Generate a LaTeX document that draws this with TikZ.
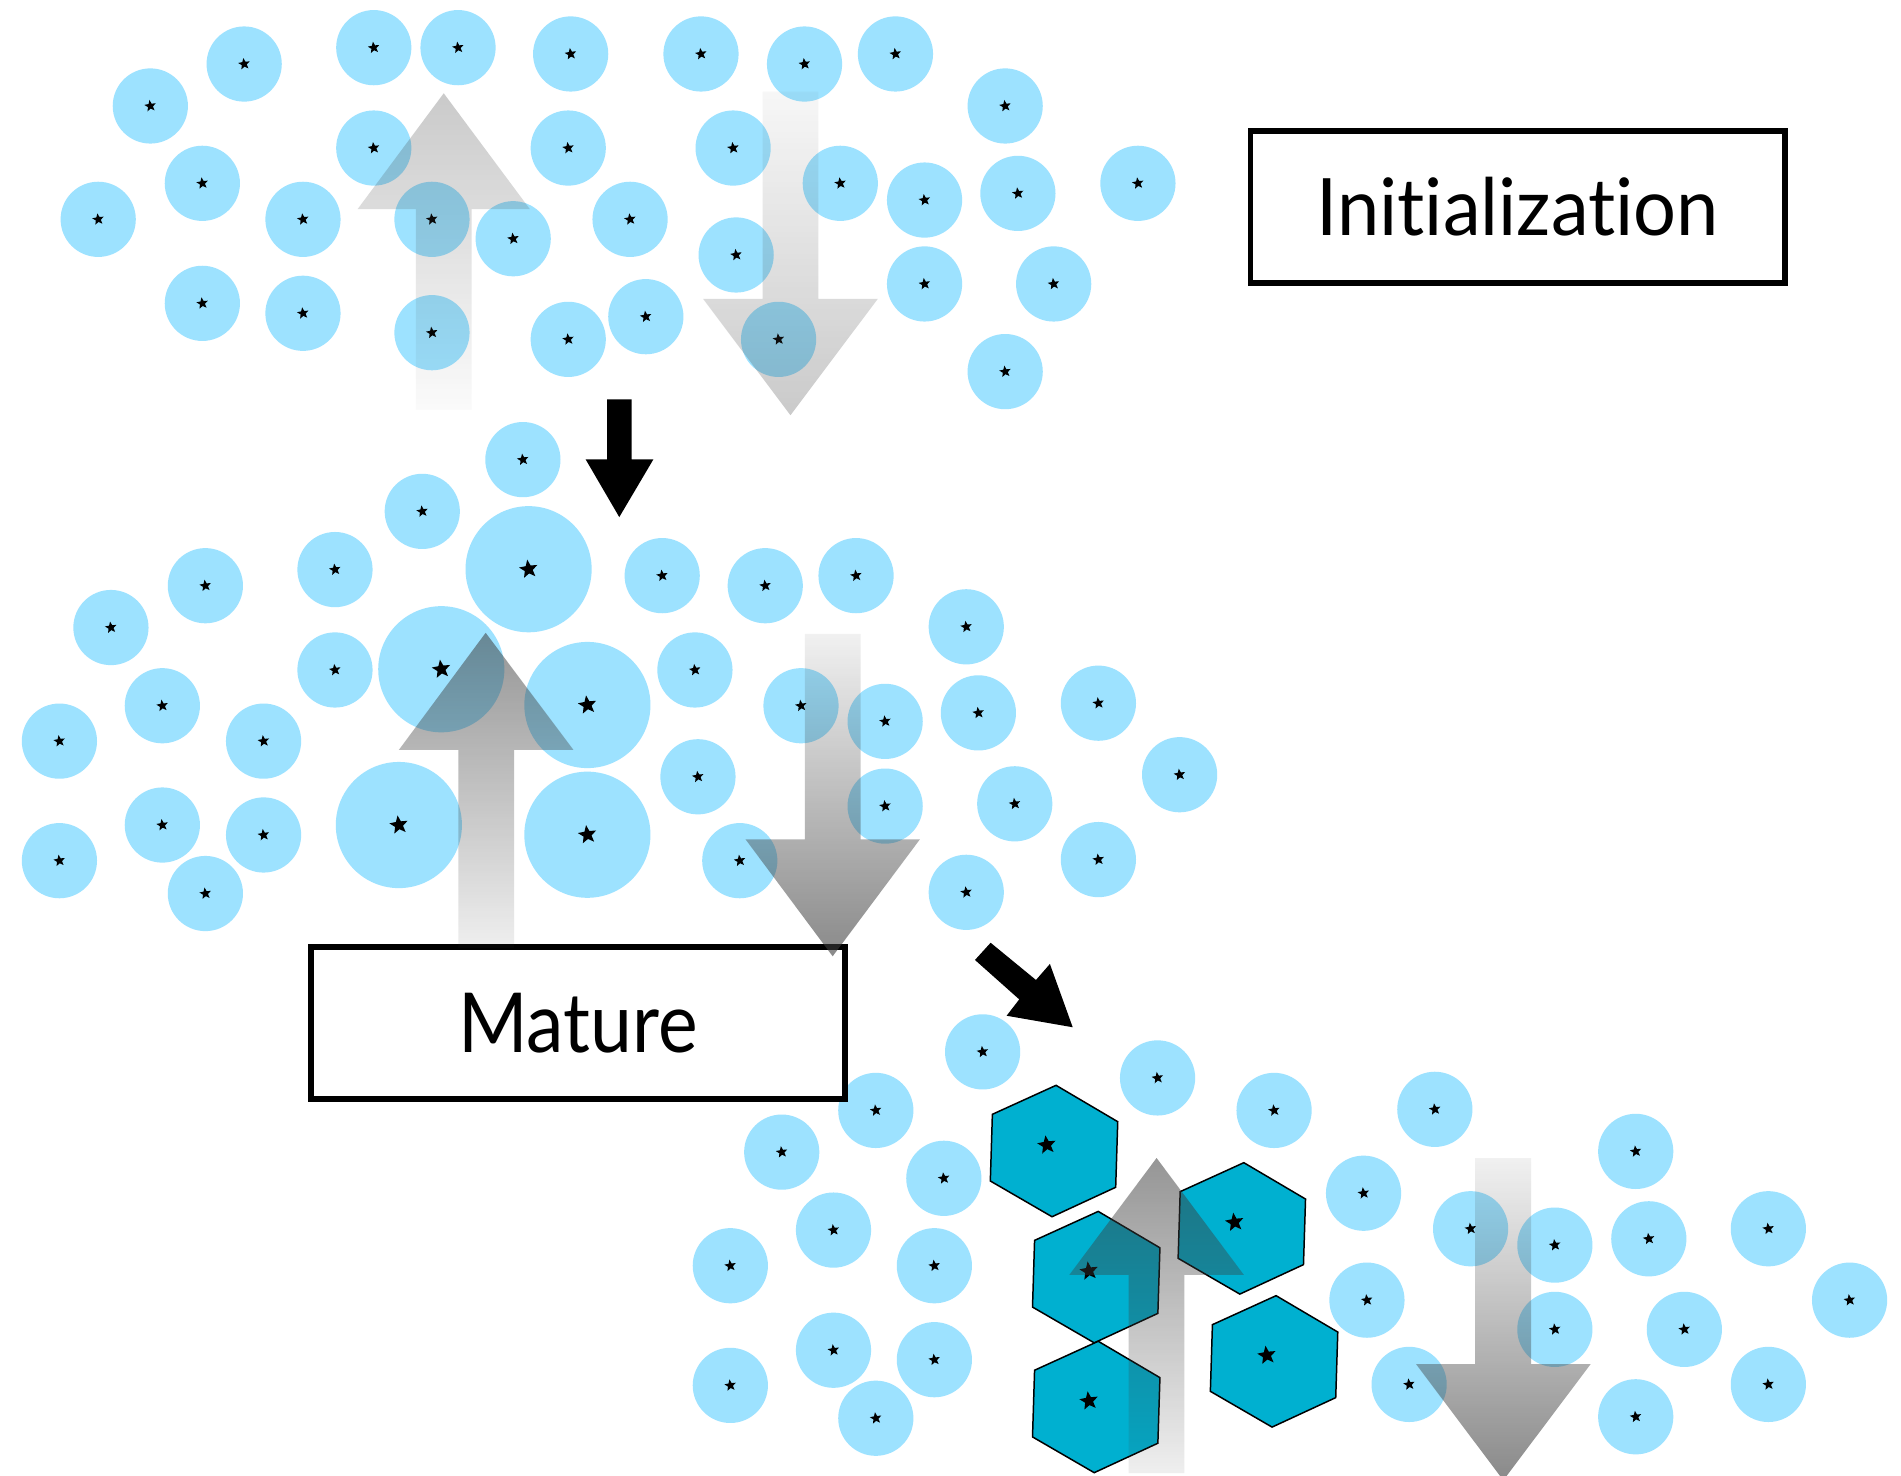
\documentclass[tikz,border=0pt]{standalone}
\usepackage{graphicx}
\usepackage{fontspec}
\setmainfont{Lato}[Ligatures={NoCommon,NoContextual}]
\usetikzlibrary{shapes.geometric,fadings}

\definecolor{cellblue}{RGB}{157,226,255}
\definecolor{hexblue}{RGB}{0,176,208}
\definecolor{arrowgray}{RGB}{60,60,60}

% soft masks for the translucent flow arrows (opaque end = arrow head)
\tikzfading[name=fadeupA,   top color=transparent!73, bottom color=transparent!98]
\tikzfading[name=fadedownA, top color=transparent!96, bottom color=transparent!73]
\tikzfading[name=fadeupB,   top color=transparent!46, bottom color=transparent!92]
\tikzfading[name=fadedownB, top color=transparent!93, bottom color=transparent!40]

\begin{document}
\begin{tikzpicture}[x=0.01cm, y=-0.01cm,
  cell/.style={circle, fill=cellblue, inner sep=0pt, minimum size=0.62cm},
  bigcell/.style={circle, fill=cellblue, inner sep=0pt, minimum size=1.04cm},
  core/.style={star, star points=5, star point ratio=2.3, fill=black, inner sep=0pt,
               minimum size=0.1cm, rotate=8},
  bigcore/.style={core, minimum size=0.16cm},
  hexcell/.style={fill=hexblue, draw=black, line width=0.35pt, line join=miter},
  labelbox/.style={draw=black, fill=white, line width=1.34pt, inner sep=0pt,
                   minimum width=4.405cm, minimum height=1.251cm},
  blockarrow/.style={fill=black},
  flow/.style={fill=arrowgray}]

\useasboundingbox (0,0) rectangle (1568,1217);
\fill[white] (0,0) rectangle (1568,1217);

% ---------- initial population ----------
\foreach \x/\y [count=\i] in {
  124/87.4, 201.4/52.8, 308.3/39.3, 377.8/39.3, 470.7/44.5, 578.2/44.5,
  663.6/52.8, 738.6/44.5, 308.3/122.1, 468.7/122.1, 604.7/122.1, 166.9/151.2,
  693.1/151.2, 762.6/165, 81/180.9, 249.9/180.9, 356.3/180.9, 423.3/196.9,
  519.7/180.9, 607.2/210.3, 762.6/234.2, 166.9/250.2, 249.9/258.4, 356.3/274.4,
  468.7/279.9, 532.7/261.2, 642.2/279.9, 829.1/87.4, 839.6/159.5, 938.6/151.2,
  869.1/234.2, 829.1/306.5}
{
  \node[cell] (init\i) at (\x,\y) {};
  \node[core] (initcore\i) at (init\i.center) {};
}

% ---------- maturing population ----------
\foreach \x/\y [count=\i] in {
  431.3/379.1, 348.3/421.8, 276.3/469.8, 169.4/483.1, 91.5/517.6, 546.2/474.8,
  631.2/483.1, 706.1/474.8, 276.3/552.6, 573.2/552.6, 133.9/582.1, 49/611.3,
  217.4/611.3, 660.7/582.1, 730.1/595, 575.7/640.7, 730.1/664.9, 133.9/680.5,
  217.4/688.7, 49/709.9, 169.4/737, 610.2/709.9, 797/517, 807/588, 906/580,
  837/663, 973/639, 797/736, 906/709}
{
  \node[cell] (mid\i) at (\x,\y) {};
  \node[core] (midcore\i) at (mid\i.center) {};
}
\foreach \x/\y [count=\i] in {
  436/469.5, 364/552, 484.5/581.5, 329/680.5, 484.5/688.5}
{
  \node[bigcell] (grown\i) at (\x,\y) {};
  \node[bigcore] (growncore\i) at (grown\i.center) {};
}

% ---------- mature population ----------
\foreach \x/\y [count=\i] in {
  810.5/867.6, 954.8/889.1, 1050.9/915.9, 722.4/915.9, 644.8/950.3, 778.5/971.9,
  687.5/1014.6, 602.4/1044, 770.7/1044, 687.5/1113.7, 770.7/1121.5, 602.4/1142.7,
  722.4/1169.8, 1183.5/915, 1124.7/984.2, 1213/1013.5, 1282.5/1027, 1349.2/949.7,
  1360/1021.8, 1458.6/1013.5, 1127.5/1072.4, 1282.5/1096.5, 1389.3/1096.5,
  1525.6/1072.4, 1162.3/1141.9, 1349.2/1168.6, 1458.6/1141.9}
{
  \node[cell] (late\i) at (\x,\y) {};
  \node[core] (latecore\i) at (late\i.center) {};
}
\foreach \x/\y [count=\i] in {
  869.4/949.4, 904.2/1053.4, 1024.3/1013.2, 904.2/1160.5, 1050.9/1122.9}
{
  \begin{scope}[shift={(\x,\y)}]
    \draw[hexcell] (1.65,-54.2) -- (52.55,-24.2) -- (50.85,29.9) -- (-1.65,54.2)
                   -- (-52.55,24.7) -- (-50.85,-30.3) -- cycle;
    \node[bigcore] (hexcore\i) at (-6,-5) {};
  \end{scope}
}

% ---------- stage labels ----------
\node[labelbox] (initlabel) at (1251.75,170.75) {\resizebox{3.316cm}{0.481cm}{Initialization}};
\node[labelbox] (maturelabel) at (476.8,843.75) {\resizebox{1.974cm}{0.489cm}{Mature}};

% ---------- translucent flow arrows ----------
\fill[flow, path fading=fadeupA] (366,77) -- (437,172.5) -- (389,172.5) -- (389,338)
  -- (343,338) -- (343,172.5) -- (295,172.5) -- cycle;
\fill[flow, path fading=fadedownA] (629,75.6) -- (675,75.6) -- (675,246.6) -- (724,246.6)
  -- (652,342.5) -- (580,246.6) -- (629,246.6) -- cycle;
\fill[flow, path fading=fadeupB] (400.6,522) -- (473,618.6) -- (424,618.6) -- (424,782)
  -- (378,782) -- (378,618.6) -- (329,618.6) -- cycle;
\fill[flow, path fading=fadedownB] (663.8,522.9) -- (709.8,522.9) -- (709.8,692.3)
  -- (758.8,692.3) -- (686.8,788.8) -- (614.9,692.3) -- (663.8,692.3) -- cycle;
\fill[flow, path fading=fadeupB] (954,955.2) -- (1026,1051.6) -- (977,1051.6) -- (977,1215)
  -- (931,1215) -- (931,1051.6) -- (882,1051.6) -- cycle;
\fill[flow, path fading=fadedownB] (1216.8,955.2) -- (1262.9,955.2) -- (1262.9,1125.2)
  -- (1312,1125.2) -- (1240,1221) -- (1168,1125.2) -- (1216.8,1125.2) -- cycle;

% ---------- stage transitions ----------
\fill[blockarrow] (500.7,329.5) -- (521,329.5) -- (521,378.8) -- (539,378.8)
  -- (510.8,426.5) -- (483,378.8) -- (500.7,378.8) -- cycle;
\fill[blockarrow] (804.2,791.8) -- (817.1,777.6) -- (854.5,808.3) -- (866,795.1)
  -- (884.8,847.3) -- (830.3,837.8) -- (840.7,824.3) -- cycle;
\end{tikzpicture}
\end{document}
